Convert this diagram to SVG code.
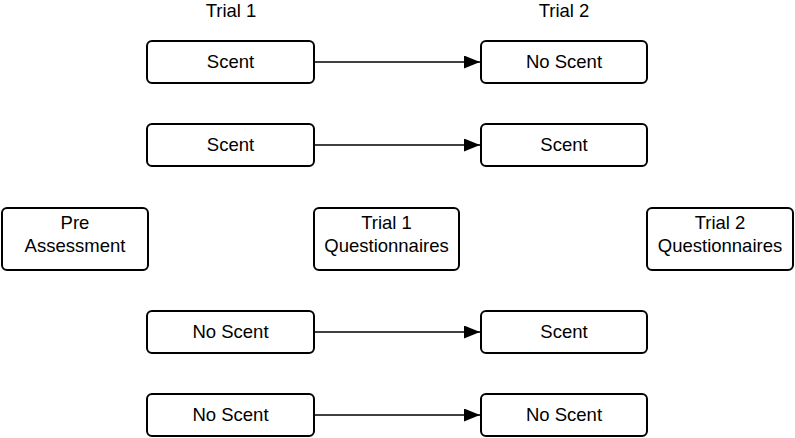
<svg xmlns="http://www.w3.org/2000/svg" width="795" height="438" viewBox="0 0 795 438">
<defs>
<style>
.box{fill:#fff;stroke:#000;stroke-width:2}
.t{font-family:"Liberation Sans",Arial,sans-serif;font-size:18.5px;fill:#000;text-anchor:middle}
.c{stroke:#000;stroke-width:1.6;fill:none}
</style>
<marker id="ah" markerWidth="16" markerHeight="13" refX="16" refY="6.5" orient="auto" markerUnits="userSpaceOnUse">
<path d="M0,0 L16,6.5 L0,13 Z" fill="#000"/>
</marker>
</defs>
<rect width="795" height="438" fill="#fff"/>
<text class="t" x="231" y="17">Trial 1</text>
<text class="t" x="564" y="17">Trial 2</text>
<g id="connectors">
<line class="c" x1="314" y1="62" x2="480" y2="62" marker-end="url(#ah)"/>
<line class="c" x1="314" y1="145" x2="480" y2="145" marker-end="url(#ah)"/>
<line class="c" x1="314" y1="332" x2="480" y2="332" marker-end="url(#ah)"/>
<line class="c" x1="314" y1="415" x2="480" y2="415" marker-end="url(#ah)"/>
</g>
<g id="t1r1"><rect class="box" x="147" y="41" width="167" height="42" rx="5"/><text class="t" x="230.5" y="68">Scent</text></g>
<g id="t2r1"><rect class="box" x="481" y="41" width="166" height="42" rx="5"/><text class="t" x="564" y="68">No Scent</text></g>
<g id="t1r2"><rect class="box" x="147" y="124" width="167" height="42" rx="5"/><text class="t" x="230.5" y="151">Scent</text></g>
<g id="t2r2"><rect class="box" x="481" y="124" width="166" height="42" rx="5"/><text class="t" x="564" y="151">Scent</text></g>
<g id="pre"><rect class="box" x="2" y="208" width="146" height="62" rx="5"/><text class="t" x="75" y="229">Pre</text><text class="t" x="75" y="252">Assessment</text></g>
<g id="q1"><rect class="box" x="314" y="208" width="145" height="62" rx="5"/><text class="t" x="386.5" y="229">Trial 1</text><text class="t" x="386.5" y="252">Questionnaires</text></g>
<g id="q2"><rect class="box" x="647" y="208" width="146" height="62" rx="5"/><text class="t" x="720" y="229">Trial 2</text><text class="t" x="720" y="252">Questionnaires</text></g>
<g id="t1r3"><rect class="box" x="147" y="311" width="167" height="42" rx="5"/><text class="t" x="230.5" y="338">No Scent</text></g>
<g id="t2r3"><rect class="box" x="481" y="311" width="166" height="42" rx="5"/><text class="t" x="564" y="338">Scent</text></g>
<g id="t1r4"><rect class="box" x="147" y="394" width="167" height="42" rx="5"/><text class="t" x="230.5" y="421">No Scent</text></g>
<g id="t2r4"><rect class="box" x="481" y="394" width="166" height="42" rx="5"/><text class="t" x="564" y="421">No Scent</text></g>
</svg>
